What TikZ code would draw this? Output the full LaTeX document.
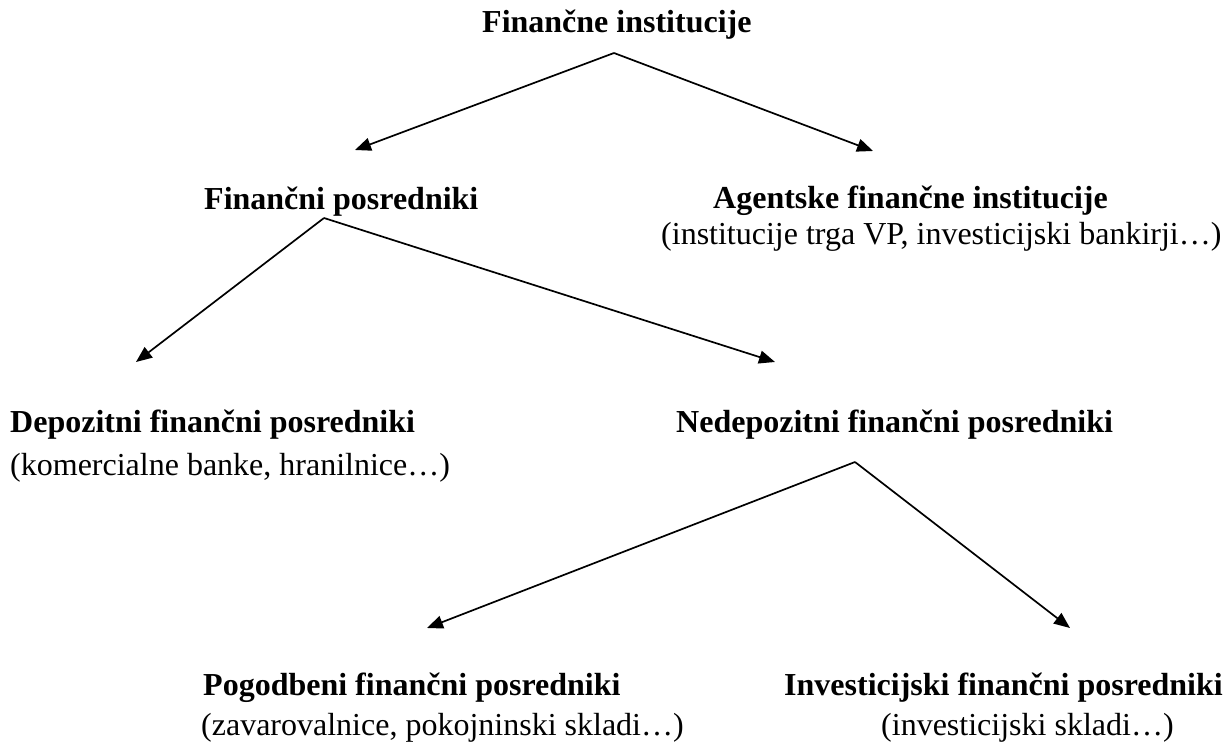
\documentclass[tikz,border=0pt]{standalone}
\usepackage{fontspec}
\setmainfont{Liberation Serif}
\usetikzlibrary{arrows.meta}
\tikzset{
  headtxt/.style={font=\fontsize{32}{38}\selectfont\bfseries, anchor=base west, inner sep=0pt, text=black},
  subtxt/.style={font=\fontsize{32}{38}\selectfont, anchor=base west, inner sep=0pt, text=black},
  arr/.style={draw=black, line width=1.7pt, -{Triangle[length=16pt,width=13pt]}}
}
\begin{document}
\begin{tikzpicture}[x=1pt,y=-1pt]
\useasboundingbox (0,0) rectangle (1232,746);
% texts
\node[headtxt] (fi) at (482,33) {Finančne institucije};
\node[headtxt] (fp) at (204,210) {Finančni posredniki};
\node[headtxt] (ag) at (713,209) {Agentske finančne institucije};
\node[subtxt] (agsub) at (661,245) {(institucije trga VP, investicijski bankirji…)};
\node[headtxt] (dep) at (10,432) {Depozitni finančni posredniki};
\node[subtxt] (depsub) at (10,475) {(komercialne banke, hranilnice…)};
\node[headtxt] (ned) at (676,432) {Nedepozitni finančni posredniki};
\node[headtxt] (pog) at (203,695) {Pogodbeni finančni posredniki};
\node[subtxt] (pogsub) at (201,735) {(zavarovalnice, pokojninski skladi…)};
\node[headtxt] (inv) at (784,695) {Investicijski finančni posredniki};
\node[subtxt] (invsub) at (881,735) {(investicijski skladi…)};
% connector ends
\coordinate (fi-o) at (614,53);
\coordinate (fp-i) at (355,150);
\coordinate (ag-i) at (873,151);
\coordinate (fp-o) at (324,218);
\coordinate (dep-i) at (136,362);
\coordinate (ned-i) at (775,362);
\coordinate (ned-o) at (855,462);
\coordinate (pog-i) at (427,628);
\coordinate (inv-i) at (1070,628);
% connectors
\draw[arr] (fi-o) -- (fp-i);
\draw[arr] (fi-o) -- (ag-i);
\draw[arr] (fp-o) -- (dep-i);
\draw[arr] (fp-o) -- (ned-i);
\draw[arr] (ned-o) -- (pog-i);
\draw[arr] (ned-o) -- (inv-i);
\end{tikzpicture}
\end{document}
